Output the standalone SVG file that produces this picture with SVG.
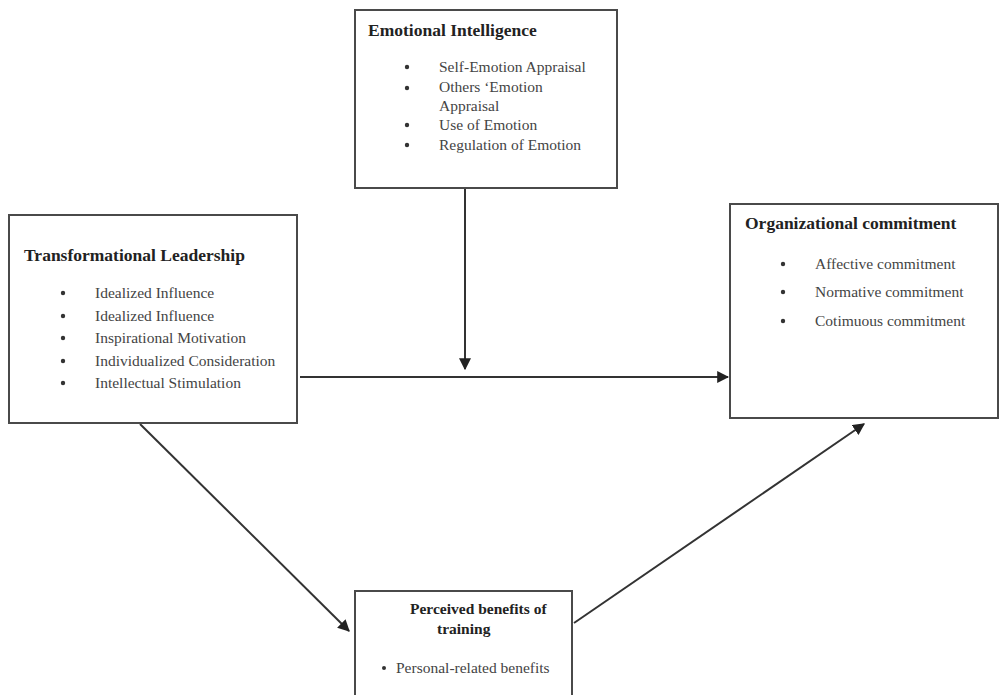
<svg xmlns="http://www.w3.org/2000/svg" width="1000" height="695" viewBox="0 0 1000 695">
<style>
.box{fill:#fff;stroke:#4a4a4a;stroke-width:2}
.h{font-family:"Liberation Serif","Times New Roman",serif;font-weight:bold;font-size:17.5px;fill:#222}
.hs{font-family:"Liberation Serif","Times New Roman",serif;font-weight:bold;font-size:15.5px;fill:#222}
.t{font-family:"Liberation Serif","Times New Roman",serif;font-size:15.5px;fill:#444}
.b{fill:#333}
.c{stroke:#333;stroke-width:2;fill:none;marker-end:url(#ah)}
</style>
<defs>
<marker id="ah" viewBox="0 0 10 10" refX="9" refY="5" markerWidth="6" markerHeight="6" markerUnits="strokeWidth" orient="auto">
<path d="M0,0 L10,5 L0,10 z" fill="#222"/>
</marker>
</defs>
<rect width="1000" height="695" fill="#fff"/>
<g id="connectors">
<line class="c" x1="465" y1="188" x2="465" y2="369"/>
<line class="c" x1="300" y1="377" x2="728" y2="377"/>
<line class="c" x1="140" y1="424" x2="349" y2="631"/>
<line class="c" x1="574" y1="623" x2="864" y2="424"/>
</g>
<g id="emotional-intelligence">
<rect class="box" x="355" y="10" width="262" height="178"/>
<text class="h" x="368" y="36">Emotional Intelligence</text>
<circle class="b" cx="407" cy="67" r="2.2"/>
<circle class="b" cx="407" cy="88" r="2.2"/>
<circle class="b" cx="407" cy="125" r="2.2"/>
<circle class="b" cx="407" cy="145" r="2.2"/>
<text class="t" x="439" y="72">Self-Emotion Appraisal</text>
<text class="t" x="439" y="92">Others ‘Emotion</text>
<text class="t" x="439" y="111">Appraisal</text>
<text class="t" x="439" y="130">Use of Emotion</text>
<text class="t" x="439" y="150">Regulation of Emotion</text>
</g>
<g id="transformational-leadership">
<rect class="box" x="9" y="215" width="288" height="208"/>
<text class="h" x="24" y="261">Transformational Leadership</text>
<circle class="b" cx="63" cy="293" r="2.2"/>
<circle class="b" cx="63" cy="316" r="2.2"/>
<circle class="b" cx="63" cy="338" r="2.2"/>
<circle class="b" cx="63" cy="361" r="2.2"/>
<circle class="b" cx="63" cy="383" r="2.2"/>
<text class="t" x="95" y="298">Idealized Influence</text>
<text class="t" x="95" y="321">Idealized Influence</text>
<text class="t" x="95" y="343">Inspirational Motivation</text>
<text class="t" x="95" y="366">Individualized Consideration</text>
<text class="t" x="95" y="388">Intellectual Stimulation</text>
</g>
<g id="organizational-commitment">
<rect class="box" x="730" y="204" width="268" height="214"/>
<text class="h" x="745" y="229">Organizational commitment</text>
<circle class="b" cx="783" cy="264" r="2.2"/>
<circle class="b" cx="783" cy="292" r="2.2"/>
<circle class="b" cx="783" cy="321" r="2.2"/>
<text class="t" x="815" y="269">Affective commitment</text>
<text class="t" x="815" y="297">Normative commitment</text>
<text class="t" x="815" y="326">Cotimuous commitment</text>
</g>
<g id="perceived-benefits">
<rect class="box" x="355" y="591" width="217" height="115"/>
<text class="hs" x="410" y="614">Perceived benefits of</text>
<text class="hs" x="437" y="634">training</text>
<circle class="b" cx="384" cy="668" r="2"/>
<text class="t" x="396" y="673">Personal-related benefits</text>
</g>
</svg>
